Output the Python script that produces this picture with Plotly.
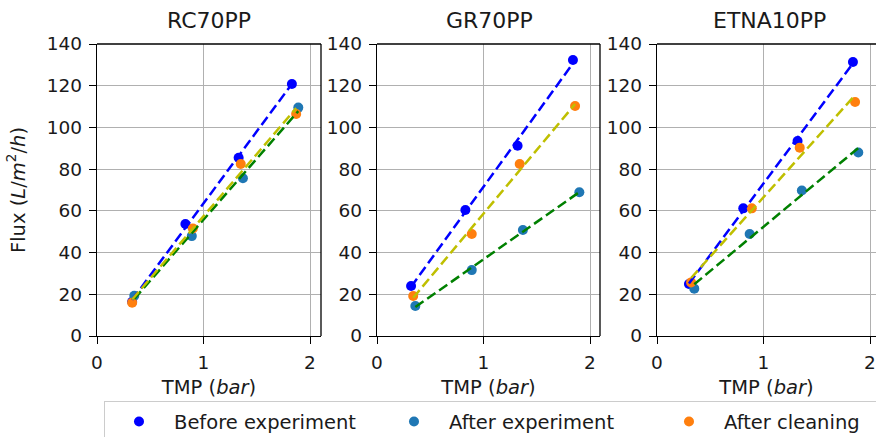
import numpy as np
import plotly.graph_objects as go

W, H = 876, 437

membranes = ["RC70PP", "GR70PP", "ETNA10PP"]
series_names = ["Before experiment", "After experiment", "After cleaning"]

# TMP (bar) and flux (L/m2/h)
tmp_before = [[0.33, 0.83, 1.33, 1.83], [0.32, 0.83, 1.32, 1.84], [0.30, 0.81, 1.32, 1.84]]
flux_before = [[16.4, 53.7, 85.5, 120.8], [24.0, 60.4, 91.2, 132.3], [24.9, 61.2, 93.5, 131.4]]
tmp_after = [[0.35, 0.89, 1.37, 1.89], [0.36, 0.89, 1.37, 1.90], [0.35, 0.87, 1.36, 1.89]]
flux_after = [[19.3, 47.9, 75.6, 109.5], [14.4, 31.6, 50.8, 68.9], [22.7, 48.9, 69.8, 88.0]]
tmp_clean = [[0.33, 0.90, 1.35, 1.87], [0.34, 0.89, 1.34, 1.86], [0.32, 0.89, 1.34, 1.86]]
flux_clean = [[16.0, 51.6, 82.5, 106.4], [19.2, 48.9, 82.5, 110.3], [25.7, 61.2, 90.3, 112.2]]

x_ticks = [0, 1, 2]
y_ticks = [0, 20, 40, 60, 80, 100, 120, 140]

marker_colors = ["#0000ff", "#1f77b4", "#ff7f0e"]
fit_colors = ["#0000ff", "#008000", "#bfbf00"]

# subplot pixel boxes (left, right)
boxes = [(97, 321), (377, 600), (657, 876)]
px_per_unit = 106.5
top_px, bottom_px = 44, 336

fig = go.Figure()
font = "DejaVu Sans"
txt = "#1a1a1a"

for i in range(3):
    xa = "x" if i == 0 else f"x{i+1}"
    ya = "y" if i == 0 else f"y{i+1}"
    data = [(tmp_before[i], flux_before[i]), (tmp_after[i], flux_after[i]), (tmp_clean[i], flux_clean[i])]
    for k, (xs, ys) in enumerate(data):
        fig.add_trace(go.Scatter(
            x=xs, y=ys, mode="markers", xaxis=xa, yaxis=ya,
            marker=dict(color=marker_colors[k], size=10),
            name=series_names[k], showlegend=(i == 0), legendgroup=series_names[k]))
    for k, (xs, ys) in enumerate(data):
        xs_a = np.array(xs)
        m, b = np.polyfit(xs_a, np.array(ys), 1)
        fig.add_trace(go.Scatter(
            x=xs_a, y=m * xs_a + b, mode="lines", xaxis=xa, yaxis=ya,
            line=dict(color=fit_colors[k], width=2.5, dash="10px,4.5px"),
            showlegend=False, hoverinfo="skip"))

layout = dict(
    width=W, height=H, margin=dict(l=0, r=0, t=0, b=0, autoexpand=False),
    plot_bgcolor="white", paper_bgcolor="white",
    font=dict(family=font, size=18.5, color=txt),
    showlegend=True,
    legend=dict(orientation="h", x=104 / W, y=(H - 401) / H, xanchor="left", yanchor="top",
                bordercolor="#cccccc", borderwidth=1.3, font=dict(size=19.5),
                bgcolor="white", itemwidth=60, entrywidth=200, entrywidthmode="pixels"),
)

shapes = []
annotations = []
for i, (l, r) in enumerate(boxes):
    suffix = "" if i == 0 else str(i + 1)
    xrange_max = (r - l) / px_per_unit
    common = dict(showgrid=True, gridcolor="#b0b0b0", gridwidth=1.3,
                  showline=True, linecolor="black", linewidth=1.3,
                  ticks="outside", ticklen=7, tickcolor="black", tickwidth=1.3,
                  zeroline=False, tickfont=dict(size=18.5), automargin=False,
                  ticklabelstandoff=3)
    layout["xaxis" + suffix] = dict(
        domain=[l / W, r / W], range=[0, xrange_max], tickvals=x_ticks,
        anchor="y" + suffix,
        title=dict(text="TMP (<i>bar</i>)", font=dict(size=19.5), standoff=8),
        **common)
    layout["yaxis" + suffix] = dict(
        domain=[(H - bottom_px) / H, (H - top_px) / H], range=[0, 140], tickvals=y_ticks,
        anchor="x" + suffix,
        title=dict(text="Flux (<i>L</i>/<i>m</i><sup>2</sup>/<i>h</i>)" if i == 0 else "",
                   font=dict(size=19.5), standoff=16),
        **common)
    # top and right border
    shapes.append(dict(type="line", xref=f"x{suffix} domain", yref=f"y{suffix} domain",
                       x0=0, x1=1, y0=1, y1=1, line=dict(color="black", width=1.3)))
    if i < 2:
        shapes.append(dict(type="line", xref=f"x{suffix} domain", yref=f"y{suffix} domain",
                           x0=1, x1=1, y0=0, y1=1, line=dict(color="black", width=1.3)))
    cx = (l + (l + 224)) / 2
    annotations.append(dict(text=membranes[i], x=cx / W, y=(H - 21) / H, xref="paper", yref="paper",
                            xanchor="center", yanchor="middle", showarrow=False,
                            font=dict(size=22)))

layout["shapes"] = shapes
layout["annotations"] = annotations
fig.update_layout(**layout)

fig.write_html("out.html", config={"displayModeBar": False},
               post_script="document.body.style.margin='0';")
